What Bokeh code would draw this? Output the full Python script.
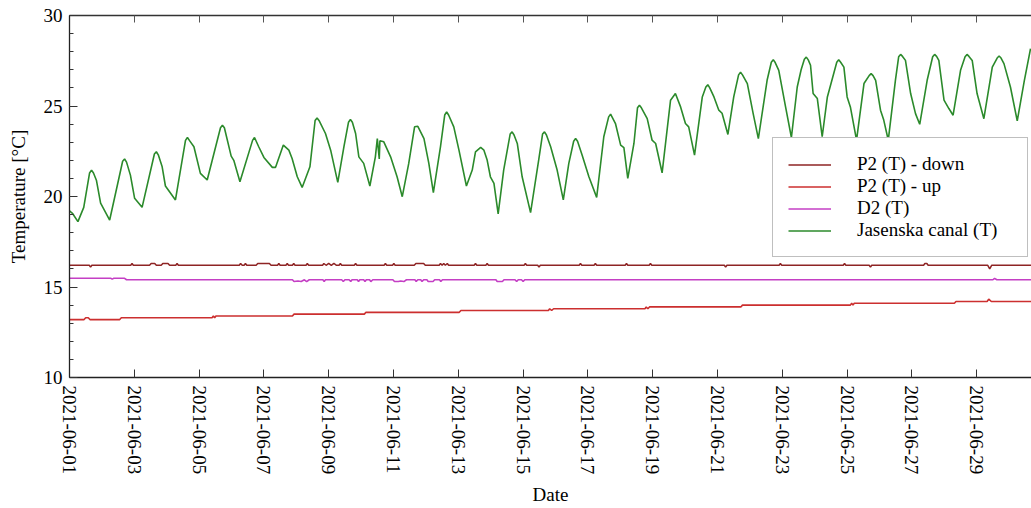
import numpy as np
from bokeh.plotting import figure
from bokeh.models import (Range1d, FixedTicker, DatetimeTickFormatter,
                          DatetimeAxis, Legend, LegendItem, CustomJSTickFormatter)
from bokeh.embed import file_html
from bokeh.resources import INLINE

START = "2021-06-01"
VIEW_END_DAY = 29.69      # visible part of the time axis (days after START)
DAY_MS = 86400000

x_tick_labels = ["2021-06-01", "2021-06-03", "2021-06-05", "2021-06-07", "2021-06-09",
                 "2021-06-11", "2021-06-13", "2021-06-15", "2021-06-17", "2021-06-19",
                 "2021-06-21", "2021-06-23", "2021-06-25", "2021-06-27", "2021-06-29"]
y_ticks = [10, 15, 20, 25, 30]

series_names = ["P2 (T) - down", "P2 (T) - up", "D2 (T)", "Jasenska canal (T)"]
series_colors = ["#8e2424", "#cc2f2f", "#c43fc4", "#2b8a2b"]

# (days after 2021-06-01 00:00, temperature °C)
p2_down = [(0.00, 16.2), (0.61, 16.2), (0.65, 16.1), (0.69, 16.2), (1.89, 16.2), (1.93, 16.3),
           (1.97, 16.2), (2.47, 16.2), (2.52, 16.3), (2.63, 16.3), (2.68, 16.2), (2.83, 16.2),
           (2.88, 16.3), (3.04, 16.3), (3.09, 16.2), (3.28, 16.2), (3.32, 16.3), (3.36, 16.2),
           (5.24, 16.2), (5.28, 16.3), (5.33, 16.2), (5.39, 16.2), (5.43, 16.3), (5.47, 16.2),
           (5.76, 16.2), (5.81, 16.3), (6.17, 16.3), (6.22, 16.2), (6.42, 16.2), (6.46, 16.3),
           (6.50, 16.2), (6.68, 16.2), (6.72, 16.3), (6.76, 16.2), (6.88, 16.2), (6.92, 16.3),
           (6.96, 16.2), (7.30, 16.2), (7.34, 16.3), (7.38, 16.2), (7.81, 16.2), (7.85, 16.3),
           (7.92, 16.2), (8.00, 16.3), (8.08, 16.2), (8.16, 16.3), (8.24, 16.2), (8.32, 16.2),
           (8.36, 16.3), (8.40, 16.2), (8.79, 16.2), (8.83, 16.3), (8.87, 16.2), (9.71, 16.2),
           (9.75, 16.3), (9.79, 16.2), (9.97, 16.2), (10.01, 16.3), (10.05, 16.2), (10.64, 16.2),
           (10.69, 16.3), (10.93, 16.3), (10.98, 16.2), (11.41, 16.2), (11.45, 16.3), (11.50, 16.2),
           (11.55, 16.3), (11.60, 16.2), (11.66, 16.3), (11.70, 16.2), (12.49, 16.2), (12.53, 16.3),
           (12.57, 16.2), (12.85, 16.2), (12.89, 16.3), (12.93, 16.2), (14.03, 16.2), (14.07, 16.3),
           (14.11, 16.2), (14.45, 16.2), (14.49, 16.1), (14.53, 16.2), (15.73, 16.2), (15.77, 16.3),
           (15.81, 16.2), (16.19, 16.2), (16.23, 16.3), (16.27, 16.2), (17.15, 16.2), (17.19, 16.3),
           (17.23, 16.2), (17.89, 16.2), (17.93, 16.3), (17.97, 16.2), (20.21, 16.2), (20.25, 16.1),
           (20.29, 16.2), (21.90, 16.2), (21.94, 16.3), (21.98, 16.2), (23.88, 16.2), (23.92, 16.3),
           (23.96, 16.2), (24.68, 16.2), (24.72, 16.1), (24.76, 16.2), (26.36, 16.2), (26.40, 16.3),
           (26.46, 16.3), (26.50, 16.2), (28.34, 16.2), (28.40, 16.0), (28.46, 16.2), (29.69, 16.2)]

p2_up = [(0.00, 13.2), (0.45, 13.2), (0.50, 13.3), (0.58, 13.3), (0.63, 13.2), (1.55, 13.2),
         (1.60, 13.3), (4.40, 13.3), (4.44, 13.4), (4.48, 13.3), (4.52, 13.4), (6.88, 13.4),
         (6.93, 13.5), (9.10, 13.5), (9.15, 13.6), (12.03, 13.6), (12.08, 13.7), (14.78, 13.7),
         (14.82, 13.8), (14.88, 13.7), (14.94, 13.8), (17.76, 13.8), (17.80, 13.9), (17.85, 13.8),
         (17.90, 13.9), (20.72, 13.9), (20.77, 14.0), (24.10, 14.0), (24.14, 14.1), (24.18, 14.0),
         (24.22, 14.1), (27.31, 14.1), (27.36, 14.2), (28.32, 14.2), (28.37, 14.33), (28.45, 14.2),
         (29.69, 14.2)]

d2 = [(0.00, 15.48), (1.28, 15.48), (1.32, 15.43), (1.36, 15.48), (1.70, 15.48), (1.76, 15.40),
      (6.88, 15.40), (6.93, 15.30), (7.05, 15.33), (7.15, 15.30), (7.25, 15.40), (7.32, 15.30),
      (7.40, 15.40), (7.82, 15.40), (7.86, 15.30), (7.90, 15.40), (8.40, 15.40), (8.45, 15.30),
      (8.50, 15.40), (8.63, 15.40), (8.68, 15.30), (8.72, 15.40), (8.88, 15.40), (8.92, 15.30),
      (8.96, 15.40), (9.08, 15.40), (9.12, 15.30), (9.16, 15.40), (9.26, 15.40), (9.30, 15.30),
      (9.36, 15.40), (9.98, 15.40), (10.03, 15.30), (10.15, 15.30), (10.22, 15.33), (10.32, 15.30),
      (10.40, 15.40), (10.66, 15.40), (10.70, 15.30), (10.75, 15.40), (10.84, 15.40), (10.88, 15.30),
      (10.93, 15.40), (11.03, 15.40), (11.07, 15.30), (11.22, 15.30), (11.27, 15.40), (11.42, 15.40),
      (11.46, 15.30), (11.51, 15.40), (13.16, 15.40), (13.20, 15.30), (13.36, 15.30), (13.41, 15.40),
      (13.75, 15.40), (13.80, 15.30), (13.85, 15.40), (13.95, 15.40), (14.00, 15.30), (14.05, 15.40),
      (28.50, 15.40), (28.55, 15.48), (28.62, 15.40), (29.69, 15.40)]

jasenska = [(0.00, 19.20), (0.10, 19.05), (0.26, 18.61), (0.44, 19.40), (0.62, 21.30), (0.68, 21.46),
            (0.74, 21.30), (0.83, 20.90), (0.96, 19.63), (1.24, 18.70), (1.64, 21.95), (1.70, 22.07),
            (1.76, 21.90), (1.88, 21.18), (2.01, 19.90), (2.24, 19.40), (2.62, 22.35), (2.68, 22.47),
            (2.74, 22.30), (2.86, 21.64), (2.96, 20.58), (3.27, 19.81), (3.58, 23.10), (3.64, 23.26),
            (3.70, 23.10), (3.84, 22.75), (4.04, 21.28), (4.25, 20.91), (4.66, 23.80), (4.72, 23.94),
            (4.78, 23.80), (4.99, 22.23), (5.07, 22.00), (5.26, 20.82), (5.65, 23.10), (5.71, 23.26),
            (5.84, 22.75), (6.00, 22.16), (6.26, 21.61), (6.36, 21.61), (6.60, 22.84), (6.77, 22.56),
            (6.87, 22.10), (7.03, 21.09), (7.18, 20.50), (7.42, 21.64), (7.58, 24.20), (7.64, 24.34),
            (7.70, 24.20), (7.90, 23.48), (8.06, 22.56), (8.28, 20.78), (8.47, 22.75), (8.61, 24.10),
            (8.67, 24.25), (8.73, 24.10), (8.83, 23.48), (8.93, 22.19), (9.08, 21.83), (9.27, 20.58),
            (9.44, 22.19), (9.50, 23.20), (9.56, 22.07), (9.58, 23.08), (9.70, 23.02), (9.91, 22.19),
            (10.11, 21.09), (10.27, 19.99), (10.47, 21.83), (10.65, 23.85), (10.75, 23.88), (10.94, 23.20),
            (11.09, 21.83), (11.23, 20.21), (11.45, 22.75), (11.58, 24.50), (11.64, 24.67), (11.70, 24.50),
            (11.86, 23.85), (12.02, 22.56), (12.25, 20.58), (12.43, 21.46), (12.53, 22.47), (12.69, 22.71),
            (12.79, 22.56), (12.89, 22.01), (12.99, 21.09), (13.10, 20.73), (13.23, 19.04), (13.40, 21.46),
            (13.60, 23.45), (13.66, 23.57), (13.72, 23.40), (13.82, 22.93), (13.97, 21.09), (14.23, 19.11),
            (14.48, 22.01), (14.60, 23.45), (14.66, 23.57), (14.72, 23.40), (14.85, 22.75), (15.05, 21.46),
            (15.24, 19.81), (15.41, 21.83), (15.56, 23.05), (15.62, 23.20), (15.68, 23.05), (15.82, 22.29),
            (16.03, 21.09), (16.27, 19.95), (16.49, 23.30), (16.64, 24.40), (16.70, 24.55), (16.85, 24.03),
            (17.01, 22.84), (17.11, 22.70), (17.23, 21.00), (17.42, 22.93), (17.53, 24.90), (17.59, 25.04),
            (17.65, 24.90), (17.83, 24.30), (17.98, 23.11), (18.09, 22.93), (18.29, 21.31), (18.55, 25.32),
            (18.70, 25.69), (18.86, 24.95), (19.01, 24.03), (19.11, 23.85), (19.29, 22.29), (19.53, 25.50),
            (19.64, 26.05), (19.70, 26.18), (19.76, 26.00), (19.89, 25.50), (20.04, 24.77), (20.14, 24.60),
            (20.32, 23.43), (20.50, 25.50), (20.65, 26.72), (20.71, 26.86), (20.77, 26.72), (20.92, 26.24),
            (21.10, 24.58), (21.26, 23.20), (21.53, 26.42), (21.66, 27.42), (21.72, 27.56), (21.78, 27.40),
            (21.89, 26.97), (22.10, 24.95), (22.28, 23.26), (22.46, 26.05), (22.58, 27.00), (22.68, 27.58),
            (22.74, 27.70), (22.80, 27.55), (22.87, 27.25), (22.95, 25.69), (23.08, 25.41), (23.23, 23.30),
            (23.39, 25.50), (23.68, 27.42), (23.74, 27.56), (23.80, 27.42), (23.90, 27.15), (24.00, 25.50),
            (24.10, 24.95), (24.29, 23.11), (24.52, 26.24), (24.68, 26.68), (24.74, 26.79), (24.80, 26.68),
            (24.88, 26.42), (25.03, 24.77), (25.13, 24.22), (25.27, 23.11), (25.49, 26.42), (25.59, 27.72),
            (25.65, 27.85), (25.71, 27.74), (25.80, 27.52), (25.96, 25.69), (26.11, 24.58), (26.24, 23.99),
            (26.47, 26.42), (26.64, 27.72), (26.70, 27.85), (26.76, 27.74), (26.83, 27.52), (26.99, 25.32),
            (27.14, 24.86), (27.27, 24.49), (27.50, 26.97), (27.64, 27.72), (27.70, 27.85), (27.76, 27.74),
            (27.86, 27.52), (28.01, 25.69), (28.22, 24.30), (28.48, 27.15), (28.63, 27.65), (28.69, 27.76),
            (28.75, 27.65), (28.84, 27.34), (29.04, 26.05), (29.25, 24.18), (29.47, 26.42), (29.66, 28.17)]

start_ms = float(np.datetime64(START, "ms").astype("int64"))


def to_ms(days):
    return start_ms + np.asarray(days, dtype=float) * DAY_MS


def unzip(pairs):
    d, t = zip(*pairs)
    return to_ms(d), list(t)


x_ticks = [float(np.datetime64(s, "ms").astype("int64")) for s in x_tick_labels]

FONT = "Liberation Serif"

p = figure(width=1031, height=508, x_axis_type="datetime", output_backend="svg",
           toolbar_location=None, min_border_left=69, min_border_right=0,
           min_border_top=15, min_border_bottom=130,
           x_range=Range1d(to_ms(0.0), to_ms(VIEW_END_DAY)), y_range=Range1d(10, 30))
p.xgrid.visible = False
p.ygrid.visible = False
p.outline_line_color = None
p.background_fill_color = "white"
p.border_fill_color = "white"

renderers = []
for name, data, color, lw in zip(series_names, [p2_down, p2_up, d2, jasenska], series_colors,
                                  [1.5, 1.6, 1.6, 1.6]):
    xs, ys = unzip(data)
    r = p.line(xs, ys, line_color=color, line_width=lw)
    renderers.append((name, r))

fmt = DatetimeTickFormatter(milliseconds="%Y-%m-%d", seconds="%Y-%m-%d", minsec="%Y-%m-%d",
                            minutes="%Y-%m-%d", hourmin="%Y-%m-%d", hours="%Y-%m-%d",
                            days="%Y-%m-%d", months="%Y-%m-%d", years="%Y-%m-%d")

xa = p.xaxis[0]
xa.ticker = FixedTicker(ticks=x_ticks, minor_ticks=[])
xa.formatter = fmt
xa.major_label_orientation = "vertical"
xa.axis_label = "Date"

ya = p.yaxis[0]
ya.ticker = FixedTicker(ticks=y_ticks, minor_ticks=list(range(10, 31)))
ya.axis_label = "Temperature [°C]"

for ax in [xa, ya]:
    ax.major_label_text_font = FONT
    ax.major_label_text_font_size = "19px"
    ax.major_label_text_color = "black"
    ax.axis_label_text_font = FONT
    ax.axis_label_text_font_size = "19px"
    ax.axis_label_text_font_style = "normal"
    ax.axis_label_text_color = "black"
    ax.axis_line_color = "#222222"
    ax.axis_line_width = 1.3
    ax.major_tick_in = 8
    ax.major_tick_out = 0
    ax.minor_tick_in = 4
    ax.minor_tick_out = 0
    ax.major_tick_line_color = "#333333"
    ax.minor_tick_line_color = "#333333"
xa.major_label_standoff = 8
ya.major_label_standoff = 7
xa.axis_label_standoff = 7
ya.axis_label_standoff = 12

top = DatetimeAxis(ticker=FixedTicker(ticks=x_ticks, minor_ticks=[]),
                   formatter=CustomJSTickFormatter(code="return ''"))
top.major_label_standoff = 0
top.major_tick_in = 7
top.major_tick_out = 0
top.minor_tick_in = 0
top.minor_tick_out = 0
top.axis_line_color = "#333333"
top.axis_line_width = 1.3
top.major_tick_line_color = "#555555"
p.add_layout(top, "above")

legend = Legend(items=[LegendItem(label=n, renderers=[r]) for n, r in renderers],
                location=(703, 120), margin=0, padding=15, spacing=0,
                label_height=21, glyph_height=21, glyph_width=43, label_standoff=26,
                label_width=155,
                label_text_font=FONT, label_text_font_size="19px", label_text_color="black",
                border_line_color="#7f7f7f", border_line_width=1.5,
                background_fill_color="white", background_fill_alpha=1.0)
p.add_layout(legend)

open("out.html", "w").write(file_html(p, INLINE))
